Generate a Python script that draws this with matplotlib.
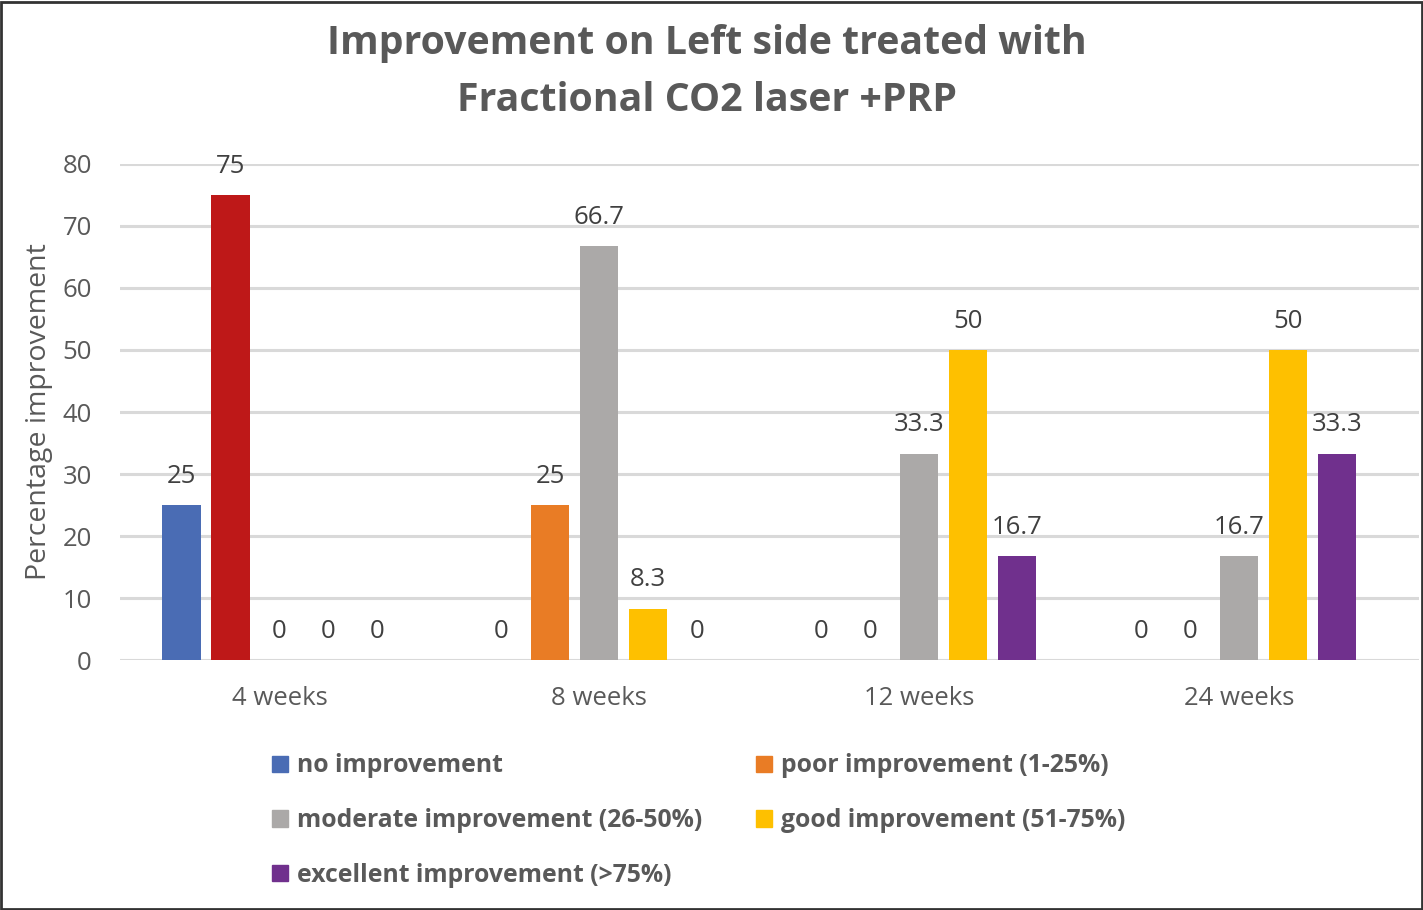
import numpy as np
import matplotlib.pyplot as plt
from matplotlib.patches import Rectangle

plt.rcParams['font.family'] = ['Open Sans', 'DejaVu Sans']

weeks = ['4 weeks', '8 weeks', '12 weeks', '24 weeks']
series = ['no improvement', 'poor improvement (1-25%)', 'moderate improvement (26-50%)',
          'good improvement (51-75%)', 'excellent improvement (>75%)']
no_imp = [25, 0, 0, 0]
poor_imp = [75, 25, 0, 0]
moderate_imp = [0, 66.7, 33.3, 16.7]
good_imp = [0, 8.3, 50, 50]
excellent_imp = [0, 0, 16.7, 33.3]
values = [no_imp, poor_imp, moderate_imp, good_imp, excellent_imp]
colors = ['#4A6CB4', '#E97C25', '#ABA9A8', '#FEC000', '#70308D']
# the 4-week "poor" bar is recoloured red in the original
poor_override = {0: '#BE1818'}

fig = plt.figure(figsize=(14.23, 9.10), dpi=100)
ax = fig.add_axes([0.084, 0.2747, 0.913, 0.5451])

x = np.arange(len(weeks))
step = 0.153
width = 0.12
txt = '#404040'
for i, (name, vals, c) in enumerate(zip(series, values, colors)):
    off = (i - 2) * step
    cols = [c] * len(vals)
    if i == 1:
        for k, v in poor_override.items():
            cols[k] = v
    ax.bar(x + off, vals, width, color=cols, label=name, zorder=3)
    for xi, v in zip(x, vals):
        lab = '%g' % v
        ax.text(xi + off, v + 2.6, lab, ha='center', va='bottom',
                fontsize=18.5, color=txt)

ax.set_ylim(0, 80)
ax.set_xlim(-0.5, 3.5625)
ax.set_yticks(range(0, 81, 10))
ax.set_xticks(x)
ax.set_xticklabels(weeks)
ax.tick_params(axis='both', length=0, labelsize=18.5, labelcolor='#595959')
ax.tick_params(axis='x', pad=19)
ax.tick_params(axis='y', pad=20)
ax.grid(axis='y', color='#D9D9D9', linewidth=2.2, zorder=0)
for s in ax.spines.values():
    s.set_visible(False)
ax.set_ylabel('Percentage improvement', fontsize=20.5, color='#595959', labelpad=7)

fig.text(0.4965, 0.952, 'Improvement on Left side treated with', ha='center', va='center',
         fontsize=28.3, fontweight='bold', color='#595959')
fig.text(0.4965, 0.890, 'Fractional CO2 laser +PRP', ha='center', va='center',
         fontsize=28.3, fontweight='bold', color='#595959')

# legend fills row by row in the original: reorder for matplotlib's column fill
order = [0, 2, 4, 1, 3]
handles = [Rectangle((0, 0), 1, 1, color=colors[j]) for j in order]
labels = [series[j] for j in order]
fig.legend(handles, labels, loc='upper left', bbox_to_anchor=(0.191, 0.172),
           ncol=2, frameon=False, handlelength=0.65, handleheight=0.65,
           handletextpad=0.35, columnspacing=2.2, labelspacing=1.2,
           borderaxespad=0, borderpad=0,
           prop={'size': 17.8, 'weight': 'bold'}, labelcolor='#595959')

fig.add_artist(Rectangle((0.001, 0.001), 0.998, 0.997, transform=fig.transFigure,
                         fill=False, edgecolor='#333333', linewidth=2))

fig.savefig('out.png', dpi=100)
